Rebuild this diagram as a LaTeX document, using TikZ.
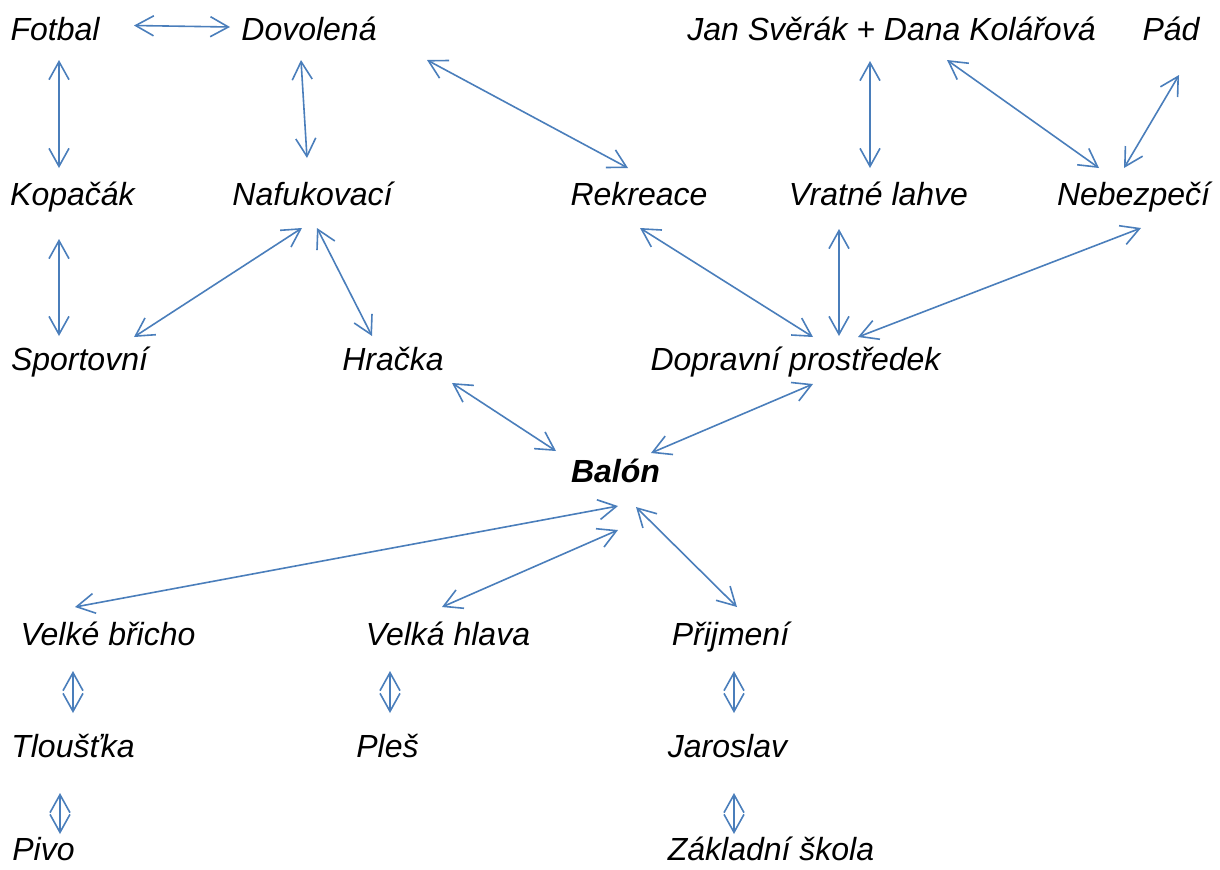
\documentclass[tikz,border=0pt]{standalone}
\usepackage{fontspec}
\setmainfont{Liberation Sans}
\usetikzlibrary
  {
    arrows.meta, % open arrow heads
    calc,        % shifted end points
  }
\definecolor{linkblue}{RGB}{74,126,187}

\begin{document}
\begin{tikzpicture}[x=0.5pt,y=-0.5pt,
    word/.style={inner sep=0,anchor=base,text height=12pt,text depth=3.5pt,
      font=\fontsize{16}{19}\selectfont\itshape},
    link/.style={draw=linkblue,line width=0.8pt,
      {Straight Barb[length=9pt,width=10pt]}-{Straight Barb[length=9pt,width=10pt]}}]
  \useasboundingbox (0,0) rectangle (1220,869);

  % top rows
  \node[word] (fotbal)     at (55,40)    {Fotbal};
  \node[word] (dovolena)   at (309,40)   {Dovolená};
  \node[word] (jan)        at (891.5,40) {Jan Svěrák + Dana Kolářová};
  \node[word] (pad)        at (1171,40)  {Pád};
  \node[word] (kopacak)    at (72.5,205)   {Kopačák};
  \node[word] (nafukovaci) at (312.5,205)  {Nafukovací};
  \node[word] (rekreace)   at (639,205)    {Rekreace};
  \node[word] (vratne)     at (878.5,205)  {Vratné lahve};
  \node[word] (nebezpeci)  at (1133.5,205) {Nebezpečí};
  \node[word] (sportovni)  at (79.5,370)  {Sportovní};
  \node[word] (hracka)     at (393,370)   {Hračka};
  \node[word] (dopravni)   at (795.5,370) {Dopravní prostředek};

  % centre
  \node[word] (balon) at (615.5,482) {\bfseries Balón};

  % bottom rows
  \node[word] (bricho)   at (108,645)   {Velké břicho};
  \node[word] (hlava)    at (448,645)   {Velká hlava};
  \node[word] (prijmeni) at (730.5,645) {Přijmení};
  \node[word] (tloustka) at (73,757)    {Tloušťka};
  \node[word] (ples)     at (387.5,757) {Pleš};
  \node[word] (jaroslav) at (727.5,757) {Jaroslav};
  \node[word,text depth=0pt] (pivo)  at (43.5,860) {Pivo};
  \node[word,text depth=0pt] (skola) at (771,860)  {Základní škola};

  \draw[link] ($(fotbal)+(79,-6)$)       -- ($(dovolena)+(-79,-4.5)$);
  \draw[link] ($(fotbal)+(4,28.5)$)      -- ($(kopacak)+(-13.5,-28.5)$);
  \draw[link] ($(dovolena)+(-8,28.5)$)   -- ($(nafukovaci)+(-5.5,-38.5)$);
  \draw[link] ($(dovolena)+(118,28.5)$)  -- ($(rekreace)+(-11,-28.5)$);
  \draw[link] ($(jan)+(-21.5,29.5)$)     -- ($(vratne)+(-8.5,-28.5)$);
  \draw[link] ($(jan)+(55.5,28.5)$)      -- ($(nebezpeci)+(-34.5,-28.5)$);
  \draw[link] ($(pad)+(8,43.5)$)         -- ($(nebezpeci)+(-9.5,-28.5)$);

  \draw[link] ($(kopacak)+(-13.5,42.5)$)   -- ($(sportovni)+(-20.5,-25.5)$);
  \draw[link] ($(nafukovaci)+(-10.5,31.5)$) -- ($(sportovni)+(54.5,-24.5)$);
  \draw[link] ($(nafukovaci)+(4.5,31.5)$)  -- ($(hracka)+(-21,-25.5)$);
  \draw[link] ($(rekreace)+(1,31.5)$)      -- ($(dopravni)+(17.5,-24.5)$);
  \draw[link] ($(vratne)+(-39.5,32.5)$)    -- ($(dopravni)+(43.5,-25.5)$);
  \draw[link] ($(nebezpeci)+(7.5,31.5)$)   -- ($(dopravni)+(62.5,-24.5)$);

  \draw[link] ($(hracka)+(59,21.5)$)     -- ($(balon)+(-59.5,-22.5)$);
  \draw[link] ($(dopravni)+(17.5,22.5)$) -- ($(balon)+(35.5,-20.5)$);

  \draw[link] ($(balon)+(2.5,32.5)$)  -- ($(bricho)+(-33,-29.5)$);
  \draw[link] ($(balon)+(2.5,56.5)$)  -- ($(hlava)+(-6,-29.5)$);
  \draw[link] ($(balon)+(20.5,33.5)$) -- ($(prijmeni)+(6.5,-29.5)$);

  \draw[link] ($(bricho)+(-35,34.5)$)   -- ($(tloustka)+(0,-35.5)$);
  \draw[link] ($(hlava)+(-58,34.5)$)    -- ($(ples)+(2.5,-35.5)$);
  \draw[link] ($(prijmeni)+(3.5,34.5)$) -- ($(jaroslav)+(6.5,-35.5)$);
  \draw[link] ($(tloustka)+(-13,44.5)$) -- ($(pivo)+(16.5,-14)$);
  \draw[link] ($(jaroslav)+(6.5,44.5)$) -- ($(skola)+(-37,-14)$);
\end{tikzpicture}
\end{document}
